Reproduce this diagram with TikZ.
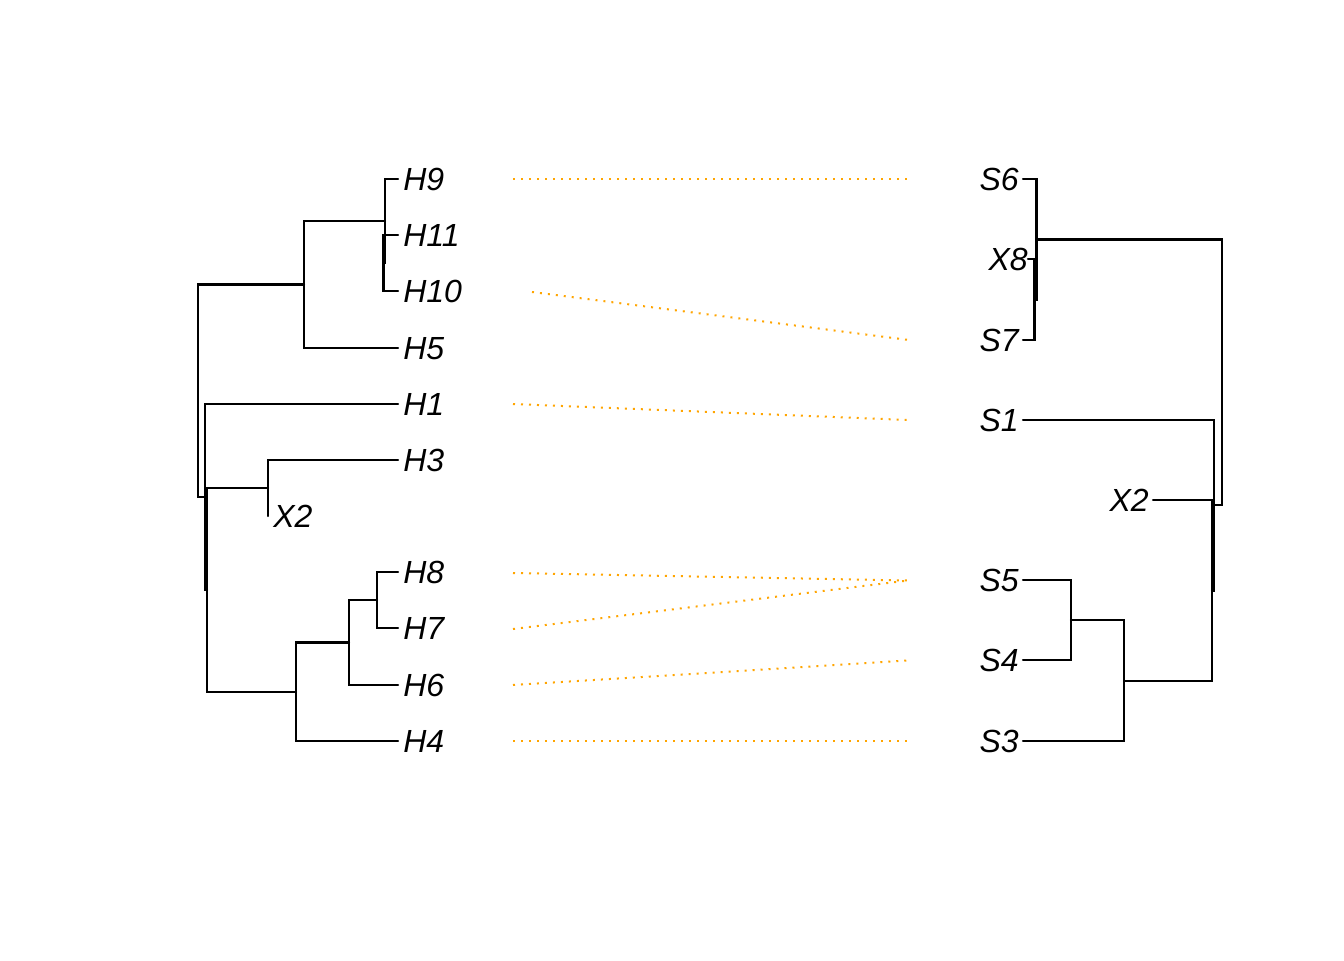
\documentclass[tikz,border=0pt]{standalone}
\usepackage{fontspec}
\setmainfont{Liberation Sans}
\definecolor{rorange}{HTML}{FFA500}
\begin{document}
\begin{tikzpicture}[x=0.75pt,y=-0.75pt,
  branch/.style={line width=1.6pt, line cap=round, line join=miter},
  lab/.style={font=\fontsize{24}{28}\selectfont\itshape, inner sep=0pt},
  labL/.style={lab, anchor=base west},
  labR/.style={lab, anchor=base east},
  assoc/.style={rorange, line width=1.5pt, dash pattern=on 1.5pt off 4.5pt}]
\useasboundingbox (0,0) rectangle (1344,960);
\fill[white] (0,0) rectangle (1344,960);
% ---------- left tree labels ----------
\node[labL] (H9)  at (403,190.5) {H9};
\node[labL] (H11) at (403,246.5) {H11};
\node[labL] (H10) at (403,302.5) {H10};
\node[labL] (H5)  at (403,359.5) {H5};
\node[labL] (H1)  at (403,415.5) {H1};
\node[labL] (H3)  at (403,471.5) {H3};
\node[labL] (X2L) at (273,527.5) {X2};
\node[labL] (H8)  at (403,583.5) {H8};
\node[labL] (H7)  at (403,639.5) {H7};
\node[labL] (H6)  at (403,696.5) {H6};
\node[labL] (H4)  at (403,752.5) {H4};
% tips
\coordinate (tH9)  at (398,179);
\coordinate (tH11) at (398,235);
\coordinate (tH10) at (398,291);
\coordinate (tH5)  at (398,348);
\coordinate (tH1)  at (398,404);
\coordinate (tH3)  at (398,460);
\coordinate (tX2L) at (268,516);
\coordinate (tH8)  at (398,572);
\coordinate (tH7)  at (398,628);
\coordinate (tH6)  at (398,685);
\coordinate (tH4)  at (398,741);
% internal nodes
\coordinate (n1011) at (383.5,263);
\coordinate (n91011) at (385,221);
\coordinate (n5) at (304,284.5);
\coordinate (rootL) at (198,391);
\coordinate (nA) at (205,497);
\coordinate (nB) at (207,590);
\coordinate (n3) at (268,488);
\coordinate (nC) at (296,692);
\coordinate (nD) at (349,642.5);
\coordinate (nE) at (377,600);
\draw[branch] (tH11) -| (n1011) |- (tH10);
\draw[branch] (tH9) -| (n91011) |- (n1011);
\draw[branch] (n91011) -| (n5) |- (tH5);
\draw[branch] (n5) -| (rootL) |- (nA);
\draw[branch] (tH1) -| (nA) |- (nB);
\draw[branch] (n3) -| (nB) |- (nC);
\draw[branch] (tH3) -| (n3) |- (tX2L);
\draw[branch] (nD) -| (nC) |- (tH4);
\draw[branch] (nE) -| (nD) |- (tH6);
\draw[branch] (tH8) -| (nE) |- (tH7);
% ---------- right tree labels ----------
\node[labR] (S6)  at (1019,190.5) {S6};
\node[labR] (X8)  at (1028,270.5) {X8};
\node[labR] (S7)  at (1019,351.5) {S7};
\node[labR] (S1)  at (1019,431.5) {S1};
\node[labR] (X2R) at (1149,511.5) {X2};
\node[labR] (S5)  at (1019,591.5) {S5};
\node[labR] (S4)  at (1019,671.5) {S4};
\node[labR] (S3)  at (1019,752.5) {S3};
% tips
\coordinate (tS6) at (1023,179);
\coordinate (tX8) at (1028,259);
\coordinate (tS7) at (1023,340);
\coordinate (tS1) at (1023,420);
\coordinate (tX2R) at (1153,500);
\coordinate (tS5) at (1023,580);
\coordinate (tS4) at (1023,660);
\coordinate (tS3) at (1023,741);
% internal nodes
\coordinate (m78) at (1034.5,299.5);
\coordinate (m678) at (1036.5,239.5);
\coordinate (rootR) at (1222,372);
\coordinate (mF) at (1214,505);
\coordinate (mG) at (1212,590.5);
\coordinate (mH) at (1124,681);
\coordinate (mI) at (1071,620);
\draw[branch] (tX8) -| (m78) |- (tS7);
\draw[branch] (tS6) -| (m678) |- (m78);
\draw[branch] (m678) -| (rootR) |- (mF);
\draw[branch] (tS1) -| (mF) |- (mG);
\draw[branch] (tX2R) -| (mG) |- (mH);
\draw[branch] (mI) -| (mH) |- (tS3);
\draw[branch] (tS5) -| (mI) |- (tS4);
% ---------- associations ----------
\coordinate (aH9) at (513,179);   \coordinate (aS6) at (908,179);
\coordinate (aH10) at (532,292);  \coordinate (aS7) at (909,340);
\coordinate (aH1) at (513,404);   \coordinate (aS1) at (908,420);
\coordinate (aH8) at (513,573);   \coordinate (aS5) at (908,580.5);
\coordinate (aH7) at (513,629);
\coordinate (aH6) at (513,685);   \coordinate (aS4) at (908,660.5);
\coordinate (aH4) at (513,741);   \coordinate (aS3) at (908,741);
\draw[assoc] (aH9) -- (aS6);
\draw[assoc] (aH10) -- (aS7);
\draw[assoc] (aH1) -- (aS1);
\draw[assoc] (aH8) -- (aS5);
\draw[assoc] (aH7) -- (aS5);
\draw[assoc] (aH6) -- (aS4);
\draw[assoc] (aH4) -- (aS3);
\end{tikzpicture}
\end{document}
